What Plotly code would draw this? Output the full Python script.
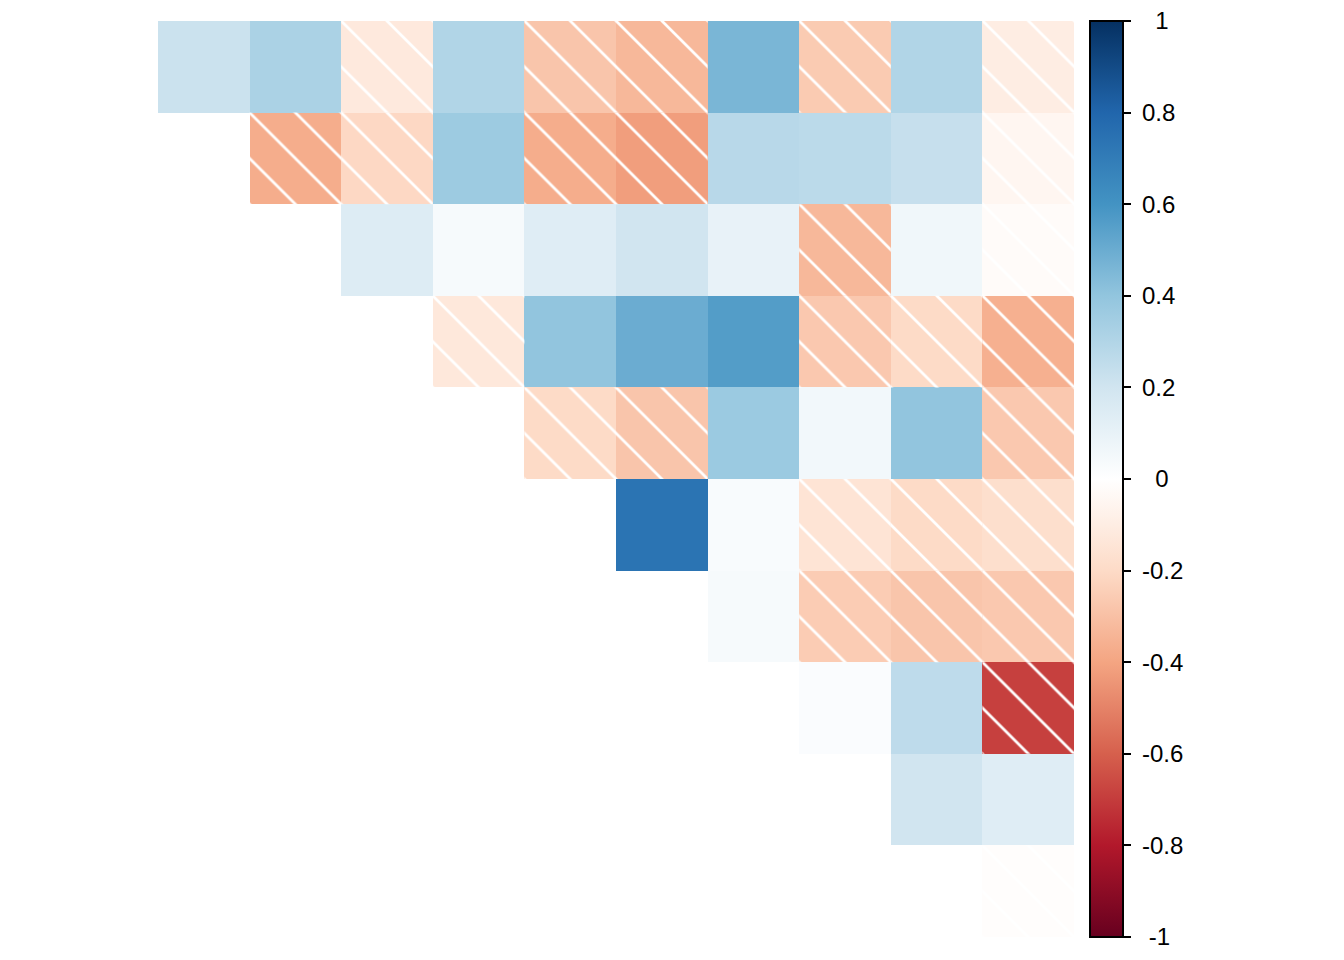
import plotly.graph_objects as go

# upper triangle of the matrix, each row starts on the diagonal
row_1 = [0.22, 0.32, -0.12, 0.30, -0.28, -0.33, 0.46, -0.26, 0.30, -0.10]
row_2 = [-0.37, -0.21, 0.365, -0.37, -0.42, 0.28, 0.27, 0.235, -0.05]
row_3 = [0.15, 0.04, 0.14, 0.20, 0.10, -0.33, 0.065, -0.02]
row_4 = [-0.13, 0.40, 0.50, 0.56, -0.27, -0.20, -0.36]
row_5 = [-0.20, -0.28, 0.37, 0.055, 0.40, -0.27]
row_6 = [0.74, 0.03, -0.15, -0.20, -0.18]
row_7 = [0.04, -0.255, -0.28, -0.27]
row_8 = [0.02, 0.26, -0.69]
row_9 = [0.20, 0.14]
row_10 = [-0.01]

rows = [row_1, row_2, row_3, row_4, row_5, row_6, row_7, row_8, row_9, row_10]
n = len(rows)

tick_vals = [-1, -0.8, -0.6, -0.4, -0.2, 0, 0.2, 0.4, 0.6, 0.8, 1]
tick_text = ["\u2008-1", "-0.8", "-0.6", "-0.4", "-0.2", "\u20070", "0.2", "0.4", "0.6", "0.8", "\u20071"]
# nbsp in front so the labels sit a little further from the ticks
tick_text = ["\u00a0" + t for t in tick_text]

# corrplot's RdBu ramp
RDBU = ["#67001F", "#B2182B", "#D6604D", "#F4A582", "#FDDBC7", "#FFFFFF",
        "#D1E5F0", "#92C5DE", "#4393C3", "#2166AC", "#053061"]
colorscale = [[i / (len(RDBU) - 1), c] for i, c in enumerate(RDBU)]

z = [[rows[i][j - i] if j >= i else None for j in range(n)] for i in range(n)]

# negative cells get a white "\" hatch on top
neg_x, neg_base = [], []
for i in range(n):
    for j in range(i, n):
        if z[i][j] < 0:
            neg_x.append(j)
            neg_base.append(i - 0.5)

fig = go.Figure()
fig.add_trace(
    go.Heatmap(
        x=list(range(n)),
        y=list(range(n)),
        z=z,
        zmin=-1,
        zmax=1,
        colorscale=colorscale,
        hoverinfo="skip",
        colorbar=dict(
            x=1.0175,
            xanchor="left",
            xpad=0,
            y=0.5,
            yanchor="middle",
            ypad=0,
            len=1,
            thickness=33,
            outlinewidth=2,
            outlinecolor="black",
            ticks="outside",
            ticklen=7,
            tickwidth=2,
            tickcolor="black",
            tickvals=tick_vals,
            ticktext=tick_text,
            tickfont=dict(size=24, color="black"),
            # the "1" label pokes above the div, keep it anyway
            ticklabeloverflow="allow",
        ),
    )
)
fig.add_trace(
    go.Bar(
        x=neg_x,
        y=[1] * len(neg_x),
        base=neg_base,
        width=1,
        marker=dict(
            color="rgba(0,0,0,0)",
            line_width=0,
            pattern=dict(
                shape="\\",
                fgcolor="white",
                bgcolor="rgba(0,0,0,0)",
                size=32.4,
                solidity=0.085,
                fillmode="replace",
            ),
        ),
        hoverinfo="skip",
        showlegend=False,
    )
)
# the page body adds an 8px offset, so the margins are trimmed by that much
fig.update_layout(
    width=1344,
    height=960,
    margin=dict(l=150, r=278, t=13, b=31, autoexpand=False),
    xaxis=dict(range=[-0.5, n - 0.5], visible=False),
    yaxis=dict(range=[n - 0.5, -0.5], visible=False),
    plot_bgcolor="white",
    paper_bgcolor="white",
    font=dict(family="Liberation Sans, Arial, sans-serif", color="black"),
)
fig.write_html("out.html")
